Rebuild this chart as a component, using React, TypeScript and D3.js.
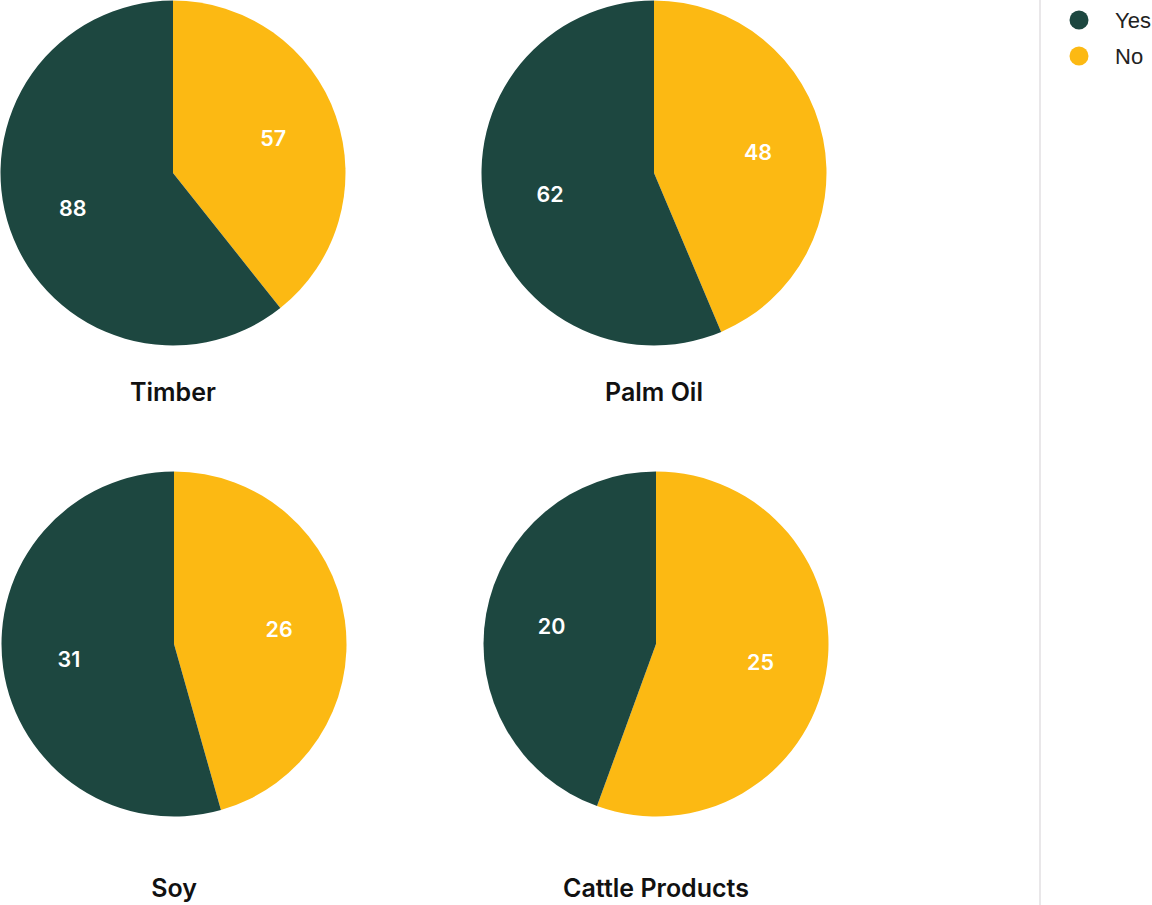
import React from "react";
import * as d3 from "d3";

const categories = ["Timber", "Palm Oil", "Soy", "Cattle Products"];
const yesValues = [88, 62, 31, 20];
const noValues = [57, 48, 26, 25];
const seriesNames = ["No", "Yes"];
const legendNames = ["Yes", "No"];

const colors: Record<string, string> = { Yes: "#1d4740", No: "#fcb913" };

const W = 1152;
const H = 905;
const centers = [
  { x: 173, y: 173 },
  { x: 654, y: 173 },
  { x: 174, y: 644 },
  { x: 656, y: 644 },
];
const titleY = [392, 392, 888, 888];
const R = 172.5;

export default function App() {
  const pie = d3
    .pie<{ name: string; value: number }>()
    .sort(null)
    .value((d) => d.value);
  const arc = d3.arc<d3.PieArcDatum<{ name: string; value: number }>>().innerRadius(0).outerRadius(R);
  const labelArc = d3
    .arc<d3.PieArcDatum<{ name: string; value: number }>>()
    .innerRadius(R * 0.615)
    .outerRadius(R * 0.615);

  return (
    <svg
      width={W}
      height={H}
      style={{ position: "absolute", left: 0, top: 0, fontFamily: "Inter, 'Liberation Sans', sans-serif" }}
    >
      <rect width={W} height={H} fill="#fff" />
      {categories.map((cat, i) => {
        const data = [
          { name: seriesNames[0], value: noValues[i] },
          { name: seriesNames[1], value: yesValues[i] },
        ];
        const arcs = pie(data);
        const c = centers[i];
        return (
          <g key={cat}>
            <g transform={`translate(${c.x},${c.y})`}>
              {arcs.map((a) => (
                <path key={a.data.name} d={arc(a) || ""} fill={colors[a.data.name]} />
              ))}
              {arcs.map((a) => {
                const [lx, ly] = labelArc.centroid(a);
                return (
                  <text
                    key={a.data.name + "l"}
                    x={lx}
                    y={ly}
                    textAnchor="middle"
                    dominantBaseline="central"
                    fill="#fff"
                    fontSize={21.5}
                    fontWeight={600}
                  >
                    {a.data.value}
                  </text>
                );
              })}
            </g>
            <text
              x={c.x}
              y={titleY[i]}
              textAnchor="middle"
              dominantBaseline="central"
              fill="#111"
              fontSize={25}
              fontWeight={600}
            >
              {cat}
            </text>
          </g>
        );
      })}
      <line x1={1040} x2={1040} y1={0} y2={H} stroke="#e2dfe2" strokeWidth={1.5} />
      {legendNames.map((n, i) => (
        <g key={n} transform={`translate(1079,${20 + i * 36})`}>
          <circle r={9.5} fill={colors[n]} />
          <text
            x={36}
            y={0}
            dominantBaseline="central"
            fontSize={22}
            fill="#222"
            style={{ fontFamily: "'Liberation Sans', Arial, sans-serif" }}
          >
            {n}
          </text>
        </g>
      ))}
    </svg>
  );
}
